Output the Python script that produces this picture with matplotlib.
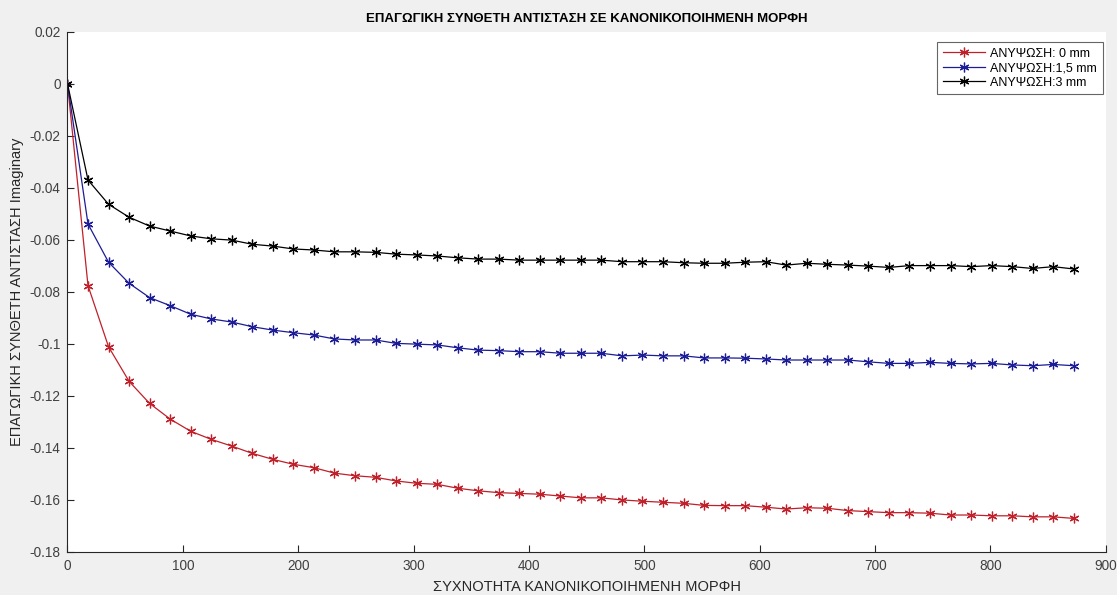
import matplotlib
matplotlib.use("Agg")
import matplotlib.pyplot as plt

# Normalised frequency samples
freq = [0.0, 17.8, 35.6, 53.4, 71.2, 89.0, 106.8, 124.6, 142.4, 160.2,
        178.0, 195.8, 213.6, 231.4, 249.2, 267.0, 284.8, 302.6, 320.4, 338.2,
        356.0, 373.8, 391.6, 409.4, 427.2, 445.0, 462.8, 480.6, 498.4, 516.2,
        534.0, 551.8, 569.6, 587.4, 605.2, 623.0, 640.8, 658.6, 676.4, 694.2,
        712.0, 729.8, 747.6, 765.4, 783.2, 801.0, 818.8, 836.6, 854.4, 872.2]

# Imaginary part of the normalised inductive impedance, per lift-off
lift_0mm = [0.0, -0.0777, -0.1012, -0.1145, -0.1230, -0.1290, -0.1337, -0.1368, -0.1394, -0.1422,
            -0.1445, -0.1464, -0.1477, -0.1498, -0.1508, -0.1514, -0.1528, -0.1537, -0.1541, -0.1556,
            -0.1566, -0.1573, -0.1576, -0.1579, -0.1586, -0.1593, -0.1593, -0.1601, -0.1606, -0.1610,
            -0.1614, -0.1622, -0.1623, -0.1623, -0.1629, -0.1636, -0.1631, -0.1633, -0.1642, -0.1646,
            -0.1650, -0.1650, -0.1652, -0.1659, -0.1659, -0.1662, -0.1662, -0.1666, -0.1666, -0.1672]

lift_1_5mm = [0.0, -0.0540, -0.0687, -0.0768, -0.0823, -0.0854, -0.0887, -0.0905, -0.0917, -0.0935,
              -0.0948, -0.0958, -0.0967, -0.0982, -0.0986, -0.0986, -0.0999, -0.1002, -0.1005, -0.1016,
              -0.1025, -0.1027, -0.1031, -0.1031, -0.1037, -0.1037, -0.1037, -0.1047, -0.1044, -0.1047,
              -0.1047, -0.1055, -0.1055, -0.1056, -0.1059, -0.1063, -0.1063, -0.1063, -0.1063, -0.1070,
              -0.1076, -0.1076, -0.1072, -0.1076, -0.1078, -0.1076, -0.1082, -0.1085, -0.1080, -0.1085]

lift_3mm = [0.0, -0.0371, -0.0464, -0.0514, -0.0548, -0.0567, -0.0586, -0.0597, -0.0602, -0.0618,
            -0.0625, -0.0636, -0.0640, -0.0647, -0.0647, -0.0649, -0.0656, -0.0659, -0.0663, -0.0670,
            -0.0675, -0.0675, -0.0679, -0.0679, -0.0679, -0.0679, -0.0679, -0.0685, -0.0685, -0.0685,
            -0.0689, -0.0691, -0.0691, -0.0687, -0.0685, -0.0698, -0.0691, -0.0695, -0.0698, -0.0702,
            -0.0707, -0.0700, -0.0700, -0.0700, -0.0704, -0.0700, -0.0704, -0.0711, -0.0704, -0.0713]

series_labels = ["ΑΝΥΨΩΣΗ: 0 mm", "ΑΝΥΨΩΣΗ:1,5 mm", "ΑΝΥΨΩΣΗ:3 mm"]
series_colors = ["#c0202a", "#1c1c96", "#000000"]

x_ticks = [0, 100, 200, 300, 400, 500, 600, 700, 800, 900]
y_ticks = [0.02, 0, -0.02, -0.04, -0.06, -0.08, -0.1, -0.12, -0.14, -0.16, -0.18]
y_tick_labels = ["0.02", "0", "-0.02", "-0.04", "-0.06", "-0.08", "-0.1",
                 "-0.12", "-0.14", "-0.16", "-0.18"]

plt.rcParams["font.family"] = ["Liberation Sans", "DejaVu Sans"]

bg = "#f0f0f0"
axis_color = "#262626"

fig = plt.figure(figsize=(11.17, 5.95), dpi=100, facecolor=bg)
ax = fig.add_axes([0.0604, 0.0728, 0.9296, 0.8742])
ax.set_facecolor("white")

asterisk = (6, 2, 0)
for ys, lab, col in zip([lift_0mm, lift_1_5mm, lift_3mm], series_labels, series_colors):
    ax.plot(freq, ys, color=col, linewidth=0.9, marker=asterisk,
            markersize=7, markeredgewidth=0.9, label=lab)

ax.set_xlim(0, 900)
ax.set_ylim(-0.18, 0.02)
ax.set_xticks(x_ticks)
ax.set_yticks(y_ticks)
ax.set_yticklabels(y_tick_labels)

for side in ("top", "right"):
    ax.spines[side].set_visible(False)
for side in ("left", "bottom"):
    ax.spines[side].set_color(axis_color)
    ax.spines[side].set_linewidth(0.8)
ax.tick_params(direction="in", length=5, width=0.8, colors=axis_color,
               labelsize=9.8, labelcolor="#404040", pad=5)

ax.set_title("ΕΠΑΓΩΓΙΚΗ ΣΥΝΘΕΤΗ ΑΝΤΙΣΤΑΣΗ ΣΕ ΚΑΝΟΝΙΚΟΠΟΙΗΜΕΝΗ ΜΟΡΦΗ",
             fontsize=9.5, fontweight="bold", color="#000000", pad=7)
ax.set_xlabel("ΣΥΧΝΟΤΗΤΑ ΚΑΝΟΝΙΚΟΠΟΙΗΜΕΝΗ ΜΟΡΦΗ", fontsize=10.5,
              color="#262626", labelpad=5)
ax.set_ylabel("ΕΠΑΓΩΓΙΚΗ ΣΥΝΘΕΤΗ ΑΝΤΙΣΤΑΣΗ Imaginary", fontsize=10.5,
              color="#262626", labelpad=4)

leg = ax.legend(loc="upper right", bbox_to_anchor=(0.997, 0.98), fontsize=9,
                frameon=True, fancybox=False, borderpad=0.45, labelspacing=0.2,
                handlelength=3.4, handletextpad=0.4, borderaxespad=0.0)
leg.get_frame().set_edgecolor("#404040")
leg.get_frame().set_linewidth(0.8)

fig.savefig("out.png", dpi=100, facecolor=bg)
